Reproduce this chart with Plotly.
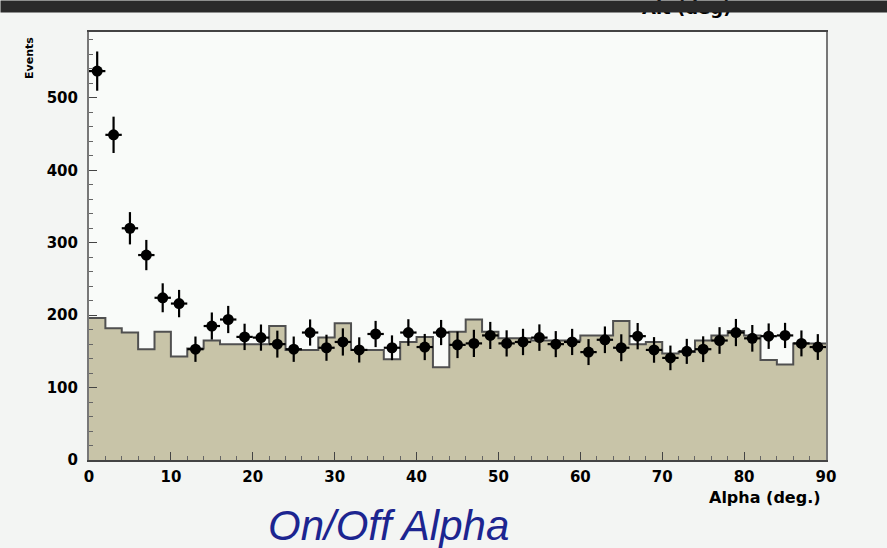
import plotly.graph_objects as go

# Alpha bins (deg.), 2-degree wide, 0..90
alpha_centers = [1, 3, 5, 7, 9, 11, 13, 15, 17, 19, 21, 23, 25, 27, 29, 31, 33, 35, 37, 39, 41, 43,
                 45, 47, 49, 51, 53, 55, 57, 59, 61, 63, 65, 67, 69, 71, 73, 75, 77, 79, 81, 83, 85, 87, 89]
bin_edges = [0, 2, 4, 6, 8, 10, 12, 14, 16, 18, 20, 22, 24, 26, 28, 30, 32, 34, 36, 38, 40, 42, 44,
             46, 48, 50, 52, 54, 56, 58, 60, 62, 64, 66, 68, 70, 72, 74, 76, 78, 80, 82, 84, 86, 88, 90]

# ON-source event counts per bin
on_counts = [537, 449, 320, 283, 224, 216, 153, 185, 194, 170, 169, 160, 153, 176, 155, 163, 152, 174,
             155, 176, 156, 176, 159, 161, 172, 161, 163, 169, 160, 163, 149, 166, 155, 171, 152, 141,
             150, 153, 165, 176, 168, 171, 172, 161, 156]

# OFF-source (background) counts per bin
off_counts = [196, 182, 176, 153, 177, 143, 154, 165, 160, 160, 160, 185, 152, 152, 169, 189, 152, 152,
              139, 163, 170, 128, 177, 194, 177, 168, 168, 165, 165, 165, 172, 172, 192, 160, 163, 147,
              149, 165, 172, 178, 172, 138, 132, 161, 161]

# statistical errors on the ON points
on_errors = [27.1, 25.1, 22.3, 20.9, 20.0, 18.9, 17.5, 18.7, 18.8, 18.2, 18.1, 18.6, 17.5, 18.1, 18.0,
             18.8, 17.4, 18.1, 17.1, 18.4, 18.1, 17.4, 18.3, 18.8, 18.7, 18.1, 18.2, 18.3, 18.0, 18.1,
             17.9, 18.4, 18.6, 18.2, 17.7, 17.0, 17.3, 17.8, 18.4, 18.8, 18.4, 17.6, 17.4, 17.9, 17.8]

x_ticks = [0, 10, 20, 30, 40, 50, 60, 70, 80, 90]
y_ticks = [0, 100, 200, 300, 400, 500]

W, H = 887, 548
L, R, T, B = 89, 826, 32, 460

fig = go.Figure()

# background histogram drawn as a filled step outline
fig.add_trace(go.Scatter(
    x=bin_edges,
    y=off_counts + [off_counts[-1]],
    mode="lines",
    line=dict(shape="hv", color="#505050", width=2),
    fill="tozeroy",
    fillcolor="#c8c4a8",
    hoverinfo="skip",
    showlegend=False,
))

# ON data with error bars
fig.add_trace(go.Scatter(
    x=alpha_centers,
    y=on_counts,
    mode="markers",
    marker=dict(symbol="circle", size=11, color="black"),
    error_y=dict(type="data", array=on_errors, color="black", thickness=2.2, width=0),
    error_x=dict(type="constant", value=1, color="black", thickness=2.2, width=0),
    showlegend=False,
))

tick_font = dict(family="DejaVu Sans", size=15, color="black", weight="bold")

fig.update_xaxes(
    range=[0, 90],
    tickvals=x_ticks,
    ticktext=[str(v) for v in x_ticks],
    tickfont=tick_font,
    ticks="inside", ticklen=8, tickcolor="#444", tickwidth=1,
    minor=dict(dtick=2, ticks="inside", ticklen=4, tickcolor="#666"),
    showline=True, linecolor="#444", linewidth=1.5, mirror=True,
    showgrid=False, zeroline=False,
    ticklabelstandoff=2,
)
fig.update_yaxes(
    range=[0, 591],
    tickvals=y_ticks,
    ticktext=[str(v) for v in y_ticks],
    tickfont=tick_font,
    ticks="inside", ticklen=8, tickcolor="#444", tickwidth=1,
    minor=dict(dtick=20, ticks="inside", ticklen=4, tickcolor="#666"),
    showline=True, linecolor="#777", linewidth=2, mirror=True,
    showgrid=False, zeroline=False,
    ticklabelstandoff=6,
)


def px_x(px):
    return (px - L) / (R - L)


def px_y(py):
    return (B - py) / (B - T)


annotations = [
    dict(text="Alpha (deg.)", x=px_x(823), y=px_y(497), xref="paper", yref="paper",
         xanchor="right", yanchor="middle", showarrow=False,
         font=dict(family="DejaVu Sans", size=16, color="black", weight="bold")),
    dict(text="Events", x=px_x(30), y=px_y(35), xref="paper", yref="paper",
         xanchor="center", yanchor="top", textangle=-90, showarrow=False,
         font=dict(family="DejaVu Sans", size=11, color="black", weight="bold")),
    dict(text="On/Off Alpha", x=px_x(388), y=px_y(525), xref="paper", yref="paper",
         xanchor="center", yanchor="middle", showarrow=False,
         font=dict(family="Liberation Sans", size=42, color="#1c2590", style="italic")),
    dict(text="Alt (deg)", x=px_x(686), y=px_y(-5), xref="paper", yref="paper",
         xanchor="center", yanchor="top", showarrow=False,
         font=dict(family="DejaVu Sans", size=18, color="black", weight="bold")),
    # dark strip along the top edge of the page
    dict(text=" ", x=px_x(0), y=px_y(0), xref="paper", yref="paper",
         xanchor="left", yanchor="top", showarrow=False,
         width=W, height=11, bgcolor="#2a2a2a", borderpad=0,
         font=dict(size=4)),
]

fig.update_layout(
    width=W, height=H,
    margin=dict(l=L, r=W - R, t=T, b=H - B),
    paper_bgcolor="#f3f5f3",
    plot_bgcolor="#f9fbf9",
    annotations=annotations,
    showlegend=False,
)

fig.write_html("out.html")
